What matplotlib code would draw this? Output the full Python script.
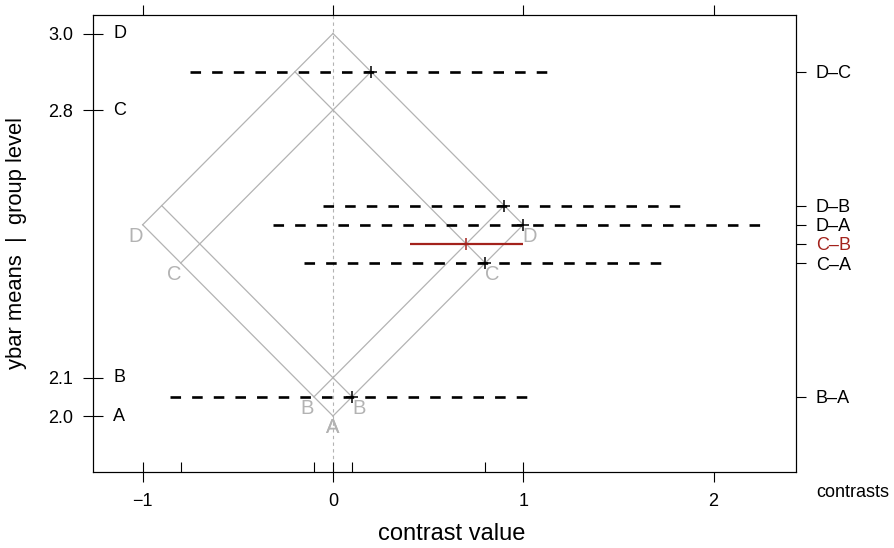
import numpy as np
import matplotlib.pyplot as plt

plt.rcParams['font.family'] = ['Liberation Sans', 'DejaVu Sans']

# group means
groups = ['A', 'B', 'C', 'D']
means = [2.0, 2.1, 2.8, 3.0]

# pairwise contrasts: estimate, plotting height (average of the pair), interval
contrasts = ['D\u2013C', 'D\u2013B', 'D\u2013A', 'C\u2013B', 'C\u2013A', 'B\u2013A']
estimates = [0.2, 0.9, 1.0, 0.7, 0.8, 0.1]
heights = [2.9, 2.55, 2.5, 2.45, 2.4, 2.05]
lower = [-0.75, -0.05, -0.315, 0.405, -0.15, -0.857]
upper = [1.14, 1.84, 2.27, 1.0, 1.745, 1.035]
highlight = 'C\u2013B'

GRAY = '#b3b3b3'
RED = '#a3221c'
FS = 13

fig = plt.figure(figsize=(8.94, 5.48), dpi=100)
ax = fig.add_axes([0.10403, 0.13869, 0.78635, 0.83394])

# iso-mean lines (the rotated square)
lo, hi = min(means), max(means)
for g, m in zip(groups, means):
    # group as the lower mean of a pair
    x = np.array([lo - m, hi - m])
    ax.plot(x, m + x / 2, color=GRAY, lw=0.9, zorder=1)
    ax.annotate(g, xy=(x[0], m + x[0] / 2), xytext=(4.8 * np.sign(x[0]), -8.6),
                textcoords='offset points', ha='center', va='center',
                color=GRAY, fontsize=14.5)
    # group as the higher mean of a pair
    x2 = np.array([m - hi, m - lo])
    ax.plot(x2, m - x2 / 2, color=GRAY, lw=0.9, zorder=1)
    ax.annotate(g, xy=(x2[1], m - x2[1] / 2), xytext=(4.8 * np.sign(x2[1]), -8.6),
                textcoords='offset points', ha='center', va='center',
                color=GRAY, fontsize=14.5)

ax.axvline(0, color=GRAY, lw=0.8, ls=(0, (3, 3)), zorder=1)

# confidence intervals
for name, est, h, l, u in zip(contrasts, estimates, heights, lower, upper):
    if name == highlight:
        ax.plot([l, u], [h, h], color=RED, lw=1.6, solid_capstyle='butt', zorder=3)
        ax.plot(est, h, marker='+', color=RED, ms=9, mew=1.1, zorder=4)
    else:
        ax.plot([l, u], [h, h], color='black', lw=1.9, ls=(0, (4.0, 4.2)),
                dash_capstyle='butt', zorder=2)
        ax.plot(est, h, marker='+', color='black', ms=9, mew=1.1, zorder=4)

ax.set_xlim(-1.261, 2.433)
ax.set_ylim(1.8536, 3.0484)

# x axis: labelled ticks outside, iso-line ends marked inside
ax.set_xticks([-1, 0, 1, 2])
ax.set_xticklabels(['\u22121', '0', '1', '2'])
ends = sorted(set([m - lo for m in means] + [lo - m for m in means]))
ax.set_xticks(ends, minor=True)
ax.xaxis.remove_overlapping_locs = False
ax.tick_params(axis='x', which='major', direction='out', length=7.2, width=0.8,
               top=True, labelsize=FS, pad=8.0)
ax.tick_params(axis='x', which='minor', direction='in', length=7.2, width=0.8,
               top=False, bottom=True)

# y axis: mean values with group letters inside
ax.set_yticks(means)
ax.set_yticklabels(['{:.1f}'.format(m) for m in means])
ax.tick_params(axis='y', direction='inout', length=15, width=0.8, right=False,
               labelsize=FS, pad=7)
for g, m in zip(groups, means):
    ax.annotate(g, xy=(0, m), xycoords=('axes fraction', 'data'), xytext=(14.5, 0),
                textcoords='offset points', ha='left', va='center', fontsize=FS)

for s in ax.spines.values():
    s.set_linewidth(0.8)

# contrast names on the right
ax2 = ax.twinx()
ax2.set_ylim(ax.get_ylim())
ax2.set_yticks(heights)
ax2.set_yticklabels(contrasts)
ax2.tick_params(axis='y', direction='out', length=7.2, width=0.8, labelsize=FS, pad=7)
for name, t in zip(contrasts, ax2.yaxis.get_major_ticks()):
    if name == highlight:
        t.tick2line.set_color(RED)
        t.label2.set_color(RED)
for s in ax2.spines.values():
    s.set_linewidth(0.8)

ax.annotate('contrasts', xy=(1, 0), xycoords='axes fraction', xytext=(14.6, -18),
            textcoords='offset points', ha='left', va='baseline', fontsize=FS)

ax.set_xlabel('contrast value', fontsize=17)
ax.xaxis.set_label_coords(0.51, -0.112)
ax.set_ylabel('ybar means  |  group level', fontsize=15.8)
ax.yaxis.set_label_coords(-0.094, 0.5)

fig.savefig('out.png', dpi=100)
